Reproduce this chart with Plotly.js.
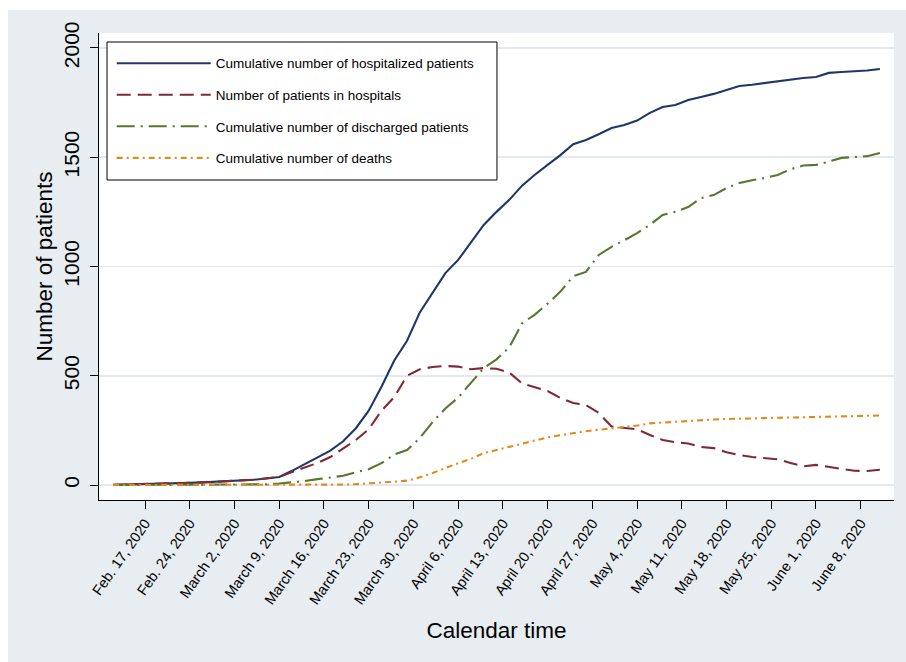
<!DOCTYPE html>
<html>
<head>
<meta charset="utf-8">
<script src="https://cdn.plot.ly/plotly-3.0.1.min.js"></script>
<style>
  html, body { margin: 0; padding: 0; background: #ffffff; width: 906px; height: 662px; overflow: hidden; }
  #chart { position: absolute; left: 8px; top: 10px; width: 898px; height: 652px; }
</style>
</head>
<body>
<div id="chart"></div>
<script>
// Dates (every second day)
const dates = [
  "2020-02-12","2020-02-14","2020-02-16","2020-02-18","2020-02-20","2020-02-22","2020-02-24","2020-02-26","2020-02-28",
  "2020-03-01","2020-03-03","2020-03-05","2020-03-07","2020-03-09","2020-03-11","2020-03-13","2020-03-15","2020-03-17",
  "2020-03-19","2020-03-21","2020-03-23","2020-03-25","2020-03-27","2020-03-29","2020-03-31","2020-04-02","2020-04-04",
  "2020-04-06","2020-04-08","2020-04-10","2020-04-12","2020-04-14","2020-04-16","2020-04-18","2020-04-20","2020-04-22",
  "2020-04-24","2020-04-26","2020-04-28","2020-04-30","2020-05-02","2020-05-04","2020-05-06","2020-05-08","2020-05-10",
  "2020-05-12","2020-05-14","2020-05-16","2020-05-18","2020-05-20","2020-05-22","2020-05-24","2020-05-26","2020-05-28",
  "2020-05-30","2020-06-01","2020-06-03","2020-06-05","2020-06-07","2020-06-09","2020-06-11"
];

const hospitalizedCum = [
  1,2,3,4,6,8,10,12,15,
  17,21,24,30,37,65,95,124,157,
  200,260,340,450,570,660,790,880,970,
  1030,1110,1190,1250,1305,1370,1420,1465,1510,
  1560,1579,1605,1634,1648,1668,1703,1730,1739,
  1762,1776,1790,1808,1826,1832,1840,1848,1858,
  1863,1867,1886,1890,1893,1897,1904
];

const inHospital = [
  1,2,3,4,6,8,10,12,14,
  17,21,24,30,37,59,80,101,128,
  165,206,255,340,403,500,530,540,545,
  542,530,535,532,515,465,447,430,398,
  375,366,330,268,261,255,229,206,196,
  190,174,169,150,137,128,124,118,101,
  85,92,82,72,65,64,70
];

const dischargedCum = [
  0,0,0,0,0,0,0,0,0,
  0,0,0,3,7,12,18,27,33,
  42,59,72,100,140,160,215,288,350,
  400,470,535,575,630,740,780,830,885,
  955,975,1053,1090,1120,1153,1190,1236,1250,
  1272,1313,1327,1359,1382,1395,1405,1419,1445,
  1462,1465,1480,1497,1501,1505,1519
];

const deathsCum = [
  0,0,0,0,0,0,0,0,0,
  0,0,0,0,0,0,0,0,0,
  2,4,7,12,15,20,35,55,78,
  100,120,146,160,174,190,205,218,228,
  238,246,253,259,265,272,282,286,290,
  293,297,300,302,304,305,306,308,309,
  310,311,312,314,315,316,318
];

const seriesNames = [
  "Cumulative number of hospitalized patients",
  "Number of patients in hospitals",
  "Cumulative number of discharged patients",
  "Cumulative number of deaths"
];

const tickDates = [
  "2020-02-17","2020-02-24","2020-03-02","2020-03-09","2020-03-16","2020-03-23","2020-03-30",
  "2020-04-06","2020-04-13","2020-04-20","2020-04-27","2020-05-04","2020-05-11","2020-05-18",
  "2020-05-25","2020-06-01","2020-06-08"
];
const tickLabels = [
  "Feb. 17, 2020","Feb. 24, 2020","March 2, 2020","March 9, 2020","March 16, 2020","March 23, 2020","March 30, 2020",
  "April 6, 2020","April 13, 2020","April 20, 2020","April 27, 2020","May 4, 2020","May 11, 2020","May 18, 2020",
  "May 25, 2020","June 1, 2020","June 8, 2020"
];
const yTicks = [0, 500, 1000, 1500, 2000];

const FONT = "'Liberation Sans', Arial, sans-serif";

const styles = [
  {color: "#1f3768", dash: "solid"},
  {color: "#7e2a35", dash: "14px,7px"},
  {color: "#56772f", dash: "18px,6px,2px,6px"},
  {color: "#e08a1c", dash: "6px,4px,2px,4px"}
];
const values = [hospitalizedCum, inHospital, dischargedCum, deathsCum];

const traces = values.map((v, i) => ({
  type: "scatter",
  mode: "lines",
  x: dates,
  y: v,
  name: seriesNames[i],
  legendgroup: "g" + i,
  line: {color: styles[i].color, width: 2.1, dash: styles[i].dash, shape: "linear"},
  hoverinfo: "skip"
}));

const layout = {
  width: 898,
  height: 652,
  margin: {l: 91, r: 12, t: 23, b: 162},
  paper_bgcolor: "#e7edf1",
  plot_bgcolor: "#ffffff",
  font: {family: FONT, color: "#000000"},
  showlegend: true,
  legend: {
    x: 0.016, y: 0.968, xanchor: "left", yanchor: "top",
    bgcolor: "rgba(0,0,0,0)", borderwidth: 0,
    font: {family: FONT, size: 13.5, color: "#000"},
    itemwidth: 94,
    tracegroupgap: 11,
    traceorder: "grouped"
  },
  xaxis: {
    type: "date",
    range: ["2020-02-09 19:00", "2020-06-13 05:00"],
    tickmode: "array",
    tickvals: tickDates,
    ticktext: tickLabels,
    tickangle: -55,
    ticks: "outside",
    ticklen: 8,
    tickcolor: "#000",
    tickwidth: 1,
    tickfont: {family: FONT, size: 14.5, color: "#000"},
    showgrid: false,
    zeroline: false,
    showline: true,
    linecolor: "#000",
    linewidth: 1,
    title: {text: "Calendar time", font: {family: FONT, size: 22.5, color: "#000"}, standoff: 15},
    fixedrange: true
  },
  yaxis: {
    range: [-68.6, 2068.6],
    tickmode: "array",
    tickvals: yTicks,
    ticktext: yTicks.map(String),
    tickangle: -90,
    ticks: "outside",
    ticklen: 8,
    tickcolor: "#000",
    tickwidth: 1,
    tickfont: {family: FONT, size: 21, color: "#000"},
    ticklabelstandoff: 3,
    showgrid: true,
    gridcolor: "#e3e9ee",
    gridwidth: 1.5,
    zeroline: false,
    showline: true,
    linecolor: "#000",
    linewidth: 1,
    title: {text: "Number of patients", font: {family: FONT, size: 22.5, color: "#000"}, standoff: 0},
    fixedrange: true
  },
  shapes: [{
    type: "rect", xref: "paper", yref: "paper",
    x0: 0.0101, x1: 0.5006, y0: 0.6852, y1: 0.9807,
    line: {color: "#000", width: 1}, fillcolor: "#ffffff", layer: "above"
  }]
};

Plotly.newPlot("chart", traces, layout, {displayModeBar: false, staticPlot: true});
</script>
</body>
</html>
